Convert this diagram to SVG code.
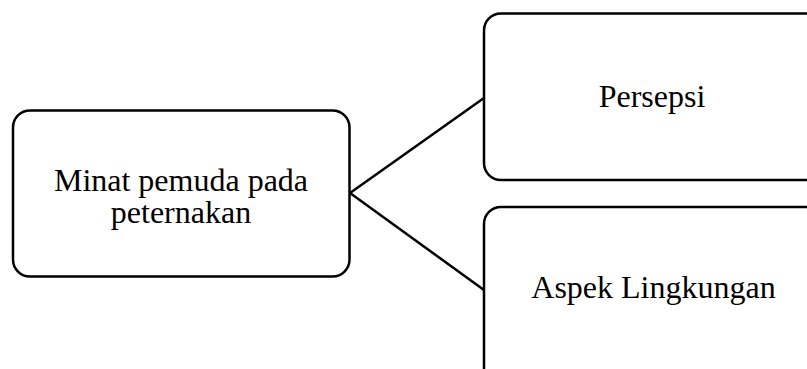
<svg xmlns="http://www.w3.org/2000/svg" width="807" height="369" viewBox="0 0 807 369">
<style>
.box{fill:#fff;stroke:#000;stroke-width:2.5}
.conn{fill:none;stroke:#000;stroke-width:2.5}
text{font-family:"Liberation Serif","Times New Roman",serif;font-size:32px;fill:#000;text-anchor:middle}
</style>
<rect width="807" height="369" fill="#fff"/>
<g id="connectors">
<line class="conn" x1="350" y1="193" x2="484" y2="98"/>
<line class="conn" x1="350" y1="193" x2="484" y2="290"/>
</g>
<g id="node-minat">
<rect class="box" x="13" y="110.5" width="336.5" height="166" rx="17" ry="17"/>
<text x="181" y="190.5">Minat pemuda pada</text>
<text x="181" y="223">peternakan</text>
</g>
<g id="node-persepsi">
<rect class="box" x="484" y="13.5" width="340" height="166.5" rx="17" ry="17"/>
<text x="652" y="106.5">Persepsi</text>
</g>
<g id="node-aspek">
<rect class="box" x="484" y="207" width="340" height="190" rx="17" ry="17"/>
<text x="653.5" y="297.5">Aspek Lingkungan</text>
</g>
</svg>
